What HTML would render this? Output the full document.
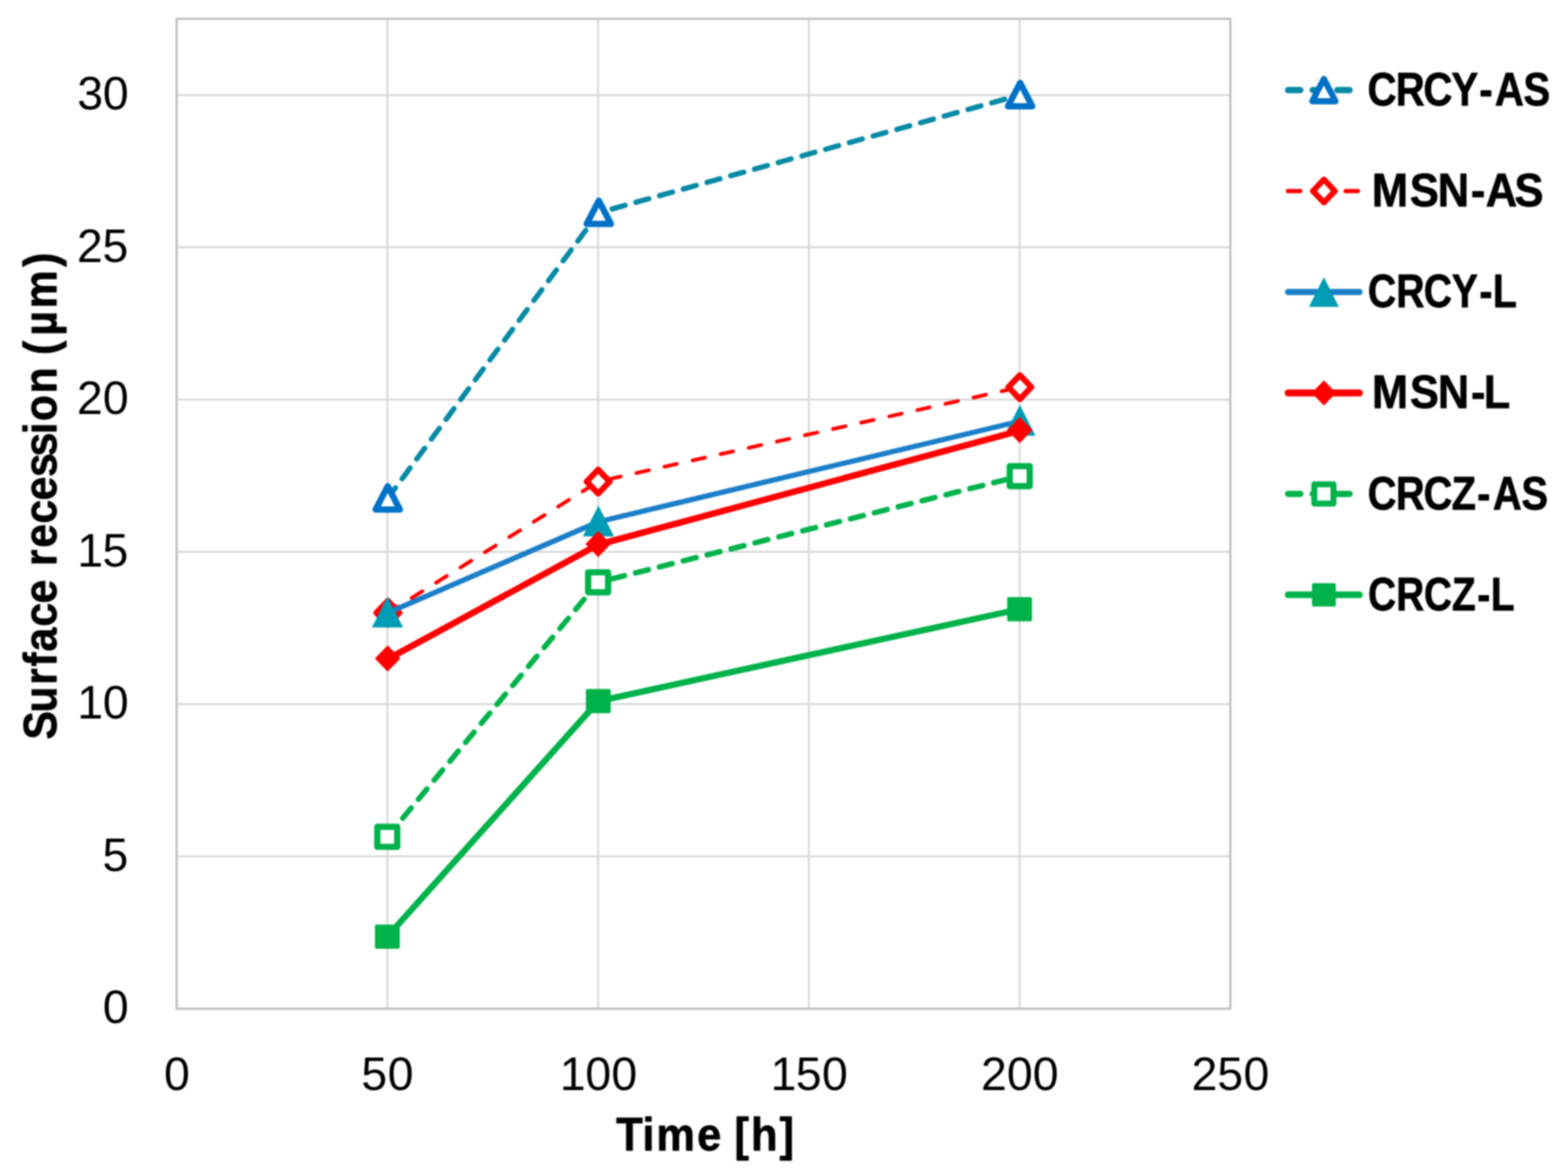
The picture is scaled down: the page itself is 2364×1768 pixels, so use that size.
<!DOCTYPE html>
<html lang="en"><head><meta charset="utf-8"><title>Surface recession vs. time</title>
<style>html,body{margin:0;padding:0;background:#ffffff;overflow:hidden}svg{display:block;filter:blur(0.8px)}text{font-family:"Liberation Sans",sans-serif;fill:#000}</style></head><body>
<svg width="2364" height="1768" viewBox="0 0 2364 1768">
<rect x="-20" y="-20" width="2404" height="1808" fill="#ffffff"/>
<g stroke="#d9d9d9" stroke-width="3" fill="none">
<line x1="584.1" y1="28.4" x2="584.1" y2="1520.4"/>
<line x1="901.8" y1="28.4" x2="901.8" y2="1520.4"/>
<line x1="1219.5" y1="28.4" x2="1219.5" y2="1520.4"/>
<line x1="1537.2" y1="28.4" x2="1537.2" y2="1520.4"/>
<line x1="266.4" y1="1290.86" x2="1854.9" y2="1290.86"/>
<line x1="266.4" y1="1061.32" x2="1854.9" y2="1061.32"/>
<line x1="266.4" y1="831.78" x2="1854.9" y2="831.78"/>
<line x1="266.4" y1="602.25" x2="1854.9" y2="602.25"/>
<line x1="266.4" y1="372.71" x2="1854.9" y2="372.71"/>
<line x1="266.4" y1="143.17" x2="1854.9" y2="143.17"/>
</g>
<rect x="266.4" y="28.4" width="1588.5" height="1492" fill="none" stroke="#c0c0c0" stroke-width="3.4"/>
<g>
<text transform="translate(154.97,1542.2) scale(1.0000,1)" font-size="70" x="0.1" y="0">0</text>
<text transform="translate(154.97,1312.66) scale(1.0000,1)" font-size="70" x="-0.36" y="0">5</text>
<text transform="translate(115.84,1083.12) scale(1.0000,1)" font-size="70" x="0.74 39.23" y="0">10</text>
<text transform="translate(115.84,853.58) scale(1.0000,1)" font-size="70" x="0.74 38.77" y="0">15</text>
<text transform="translate(115.84,624.05) scale(1.0000,1)" font-size="70" x="0.19 39.23" y="0">20</text>
<text transform="translate(115.84,394.51) scale(1.0000,1)" font-size="70" x="0.19 38.77" y="0">25</text>
<text transform="translate(115.84,164.97) scale(1.0000,1)" font-size="70" x="0.62 39.23" y="0">30</text>
</g>
<g>
<text transform="translate(247.04,1643.2) scale(1.0000,1)" font-size="70" x="0.1" y="0">0</text>
<text transform="translate(545.17,1643.2) scale(1.0000,1)" font-size="70" x="-0.36 39.23" y="0">50</text>
<text transform="translate(843.31,1643.2) scale(1.0000,1)" font-size="70" x="0.74 39.23 78.35" y="0">100</text>
<text transform="translate(1161.01,1643.2) scale(1.0000,1)" font-size="70" x="0.74 38.77 78.35" y="0">150</text>
<text transform="translate(1478.71,1643.2) scale(1.0000,1)" font-size="70" x="0.19 39.23 78.35" y="0">200</text>
<text transform="translate(1796.41,1643.2) scale(1.0000,1)" font-size="70" x="0.19 38.77 78.35" y="0">250</text>
</g>
<text transform="translate(930,1733.7) scale(0.9362,1)" font-size="70" font-weight="bold" stroke="#000" stroke-width="1" stroke-linejoin="round" x="-0.98 41.2 63.7 129.3 168.23 189.23 215.94 261.88" y="0">Time [h]</text>
<text transform="translate(84.6,1111.4) rotate(-90) scale(0.9201,1)" font-size="70" font-weight="bold" stroke="#000" stroke-width="1" stroke-linejoin="round" x="-3.61 40.7 86.03 115.98 140.69 181.31 219.56 258.49 280.52 310.77 350.02 388.27 426.53 460.07 496.69 517.98 563.35 606.11 626.38 657.9 702.92 770.6" y="0">Surface recession (µm)</text>
<g>
<polyline points="584.6,750.9 902.8,320.5 1538,143.1" fill="none" stroke="#0589a5" stroke-width="7.9" stroke-linecap="round" stroke-linejoin="round" stroke-dasharray="20.1 17.03" stroke-dashoffset="0.7"/>
<path d="M584.6,732.85 L602.85,767.95 L566.35,767.95 Z" fill="#fff" stroke="#0070c8" stroke-width="9.5" stroke-linejoin="round"/>
<path d="M902.8,302.45 L921.05,337.55 L884.55,337.55 Z" fill="#fff" stroke="#0070c8" stroke-width="9.5" stroke-linejoin="round"/>
<path d="M1538,125.05 L1556.25,160.15 L1519.75,160.15 Z" fill="#fff" stroke="#0070c8" stroke-width="9.5" stroke-linejoin="round"/>
</g>
<g>
<polyline points="584.8,923.6 901.8,725.9 1537.6,583.5" fill="none" stroke="#ff0000" stroke-width="5.6" stroke-linecap="round" stroke-linejoin="round" stroke-dasharray="19.2 24.2" stroke-dashoffset="1.3"/>
<path d="M584.8,905.5 L602.05,923.6 L584.8,941.7 L567.55,923.6 Z" fill="#fff" stroke="#ff0000" stroke-width="9" stroke-linejoin="round"/>
<path d="M901.8,707.8 L919.05,725.9 L901.8,744 L884.55,725.9 Z" fill="#fff" stroke="#ff0000" stroke-width="9" stroke-linejoin="round"/>
<path d="M1537.6,565.4 L1554.85,583.5 L1537.6,601.6 L1520.35,583.5 Z" fill="#fff" stroke="#ff0000" stroke-width="9" stroke-linejoin="round"/>
</g>
<g>
<polyline points="584.2,923.9 902.2,786.5 1537.6,634.9" fill="none" stroke="#1a7ec8" stroke-width="7.9" stroke-linecap="round" stroke-linejoin="round"/>
<path d="M584.2,899.35 L607.7,945.85 L560.7,945.85 Z" fill="#009bb4"/>
<path d="M902.2,761.95 L925.7,808.45 L878.7,808.45 Z" fill="#009bb4"/>
<path d="M1537.6,610.35 L1561.1,656.85 L1514.1,656.85 Z" fill="#009bb4"/>
</g>
<g>
<polyline points="584.4,993.5 901.8,821 1537.4,649.2" fill="none" stroke="#ff0000" stroke-width="9.6" stroke-linecap="round" stroke-linejoin="round"/>
<path d="M584.4,972.8 L603.6,992.5 L584.4,1012.2 L565.2,992.5 Z" fill="#ff0000"/>
<path d="M901.8,800.3 L921,820 L901.8,839.7 L882.6,820 Z" fill="#ff0000"/>
<path d="M1537.4,628.5 L1556.6,648.2 L1537.4,667.9 L1518.2,648.2 Z" fill="#ff0000"/>
</g>
<g>
<polyline points="583.9,1261.3 901.8,877.7 1537.4,717.7" fill="none" stroke="#00b24a" stroke-width="8.2" stroke-linecap="round" stroke-linejoin="round" stroke-dasharray="19.8 17.33" stroke-dashoffset="0.55"/>
<rect x="568.85" y="1246.25" width="30.1" height="30.1" fill="#fff" stroke="#00b24a" stroke-width="9.4" stroke-linejoin="round"/>
<rect x="886.75" y="862.65" width="30.1" height="30.1" fill="#fff" stroke="#00b24a" stroke-width="9.4" stroke-linejoin="round"/>
<rect x="1522.35" y="702.65" width="30.1" height="30.1" fill="#fff" stroke="#00b24a" stroke-width="9.4" stroke-linejoin="round"/>
</g>
<g>
<polyline points="584,1411.7 902,1056.8 1537.2,918.2" fill="none" stroke="#00b24a" stroke-width="9.4" stroke-linecap="round" stroke-linejoin="round"/>
<rect x="565.3" y="1393.4" width="37.4" height="36.6" rx="2.5" fill="#00b24a"/>
<rect x="883.3" y="1038.5" width="37.4" height="36.6" rx="2.5" fill="#00b24a"/>
<rect x="1518.5" y="899.9" width="37.4" height="36.6" rx="2.5" fill="#00b24a"/>
</g>
<g>
<polyline points="1942,135.8 2049.6,135.8" fill="none" stroke="#0589a5" stroke-width="9.6" stroke-linecap="round" stroke-linejoin="round" stroke-dasharray="18.4 18.73" stroke-dashoffset="0"/>
<path d="M1996,118.95 L2013.52,152.65 L1978.48,152.65 Z" fill="#fff" stroke="#0070c8" stroke-width="9.12" stroke-linejoin="round"/>
<text transform="translate(2063.2,158.9) scale(0.8660,1)" font-size="70" font-weight="bold" stroke="#000" stroke-width="1" stroke-linejoin="round" x="-1.71 47.51 95.67 144.33 192.89 220.01 269.74" y="0">CRCY-AS</text>
</g>
<g>
<polyline points="1942,287.96 2049.6,287.96" fill="none" stroke="#ff0000" stroke-width="6.6" stroke-linecap="round" stroke-linejoin="round" stroke-dasharray="18.2 25.2" stroke-dashoffset="0"/>
<path d="M1996,270.58 L2012.56,287.96 L1996,305.34 L1979.44,287.96 Z" fill="#fff" stroke="#ff0000" stroke-width="8.64" stroke-linejoin="round"/>
<text transform="translate(2061.9,311.06) scale(0.9386,1)" font-size="70" font-weight="bold" stroke="#000" stroke-width="1" stroke-linejoin="round" x="6.79 67.86 112.59 165.91 189.87 235.92" y="0">MSN-AS</text>
</g>
<g>
<polyline points="1942,440.12 2049.6,440.12" fill="none" stroke="#1a7ec8" stroke-width="9.4" stroke-linecap="round" stroke-linejoin="round"/>
<path d="M1996,417.8 L2018.56,462.44 L1973.44,462.44 Z" fill="#009bb4"/>
<text transform="translate(2063.2,463.22) scale(0.8452,1)" font-size="70" font-weight="bold" stroke="#000" stroke-width="1" stroke-linejoin="round" x="-1.11 49.34 98.65 148.45 197.92 221.84" y="0">CRCY-L</text>
</g>
<g>
<polyline points="1942,592.28 2049.6,592.28" fill="none" stroke="#ff0000" stroke-width="10.4" stroke-linecap="round" stroke-linejoin="round"/>
<path d="M1996,573.37 L2014.43,592.28 L1996,611.19 L1977.57,592.28 Z" fill="#ff0000"/>
<text transform="translate(2061.9,615.38) scale(0.9332,1)" font-size="70" font-weight="bold" stroke="#000" stroke-width="1" stroke-linejoin="round" x="7 68.39 113.39 166.94 187.57" y="0">MSN-L</text>
</g>
<g>
<polyline points="1942,744.44 2049.6,744.44" fill="none" stroke="#00b24a" stroke-width="9.6" stroke-linecap="round" stroke-linejoin="round" stroke-dasharray="18.4 18.73" stroke-dashoffset="0"/>
<rect x="1981.55" y="729.99" width="28.9" height="28.9" fill="#fff" stroke="#00b24a" stroke-width="9.02" stroke-linejoin="round"/>
<text transform="translate(2063.2,767.54) scale(0.8602,1)" font-size="70" font-weight="bold" stroke="#000" stroke-width="1" stroke-linejoin="round" x="-1.54 48.02 96.49 145.66 190.55 217.95 268" y="0">CRCZ-AS</text>
</g>
<g>
<polyline points="1942,896.6 2049.6,896.6" fill="none" stroke="#00b24a" stroke-width="10.0" stroke-linecap="round" stroke-linejoin="round"/>
<rect x="1978.05" y="879.03" width="35.9" height="35.14" rx="2.5" fill="#00b24a"/>
<text transform="translate(2063.2,919.7) scale(0.8375,1)" font-size="70" font-weight="bold" stroke="#000" stroke-width="1" stroke-linejoin="round" x="-0.89 50.04 99.79 150.18 196.02 220.26" y="0">CRCZ-L</text>
</g>
</svg></body></html>
